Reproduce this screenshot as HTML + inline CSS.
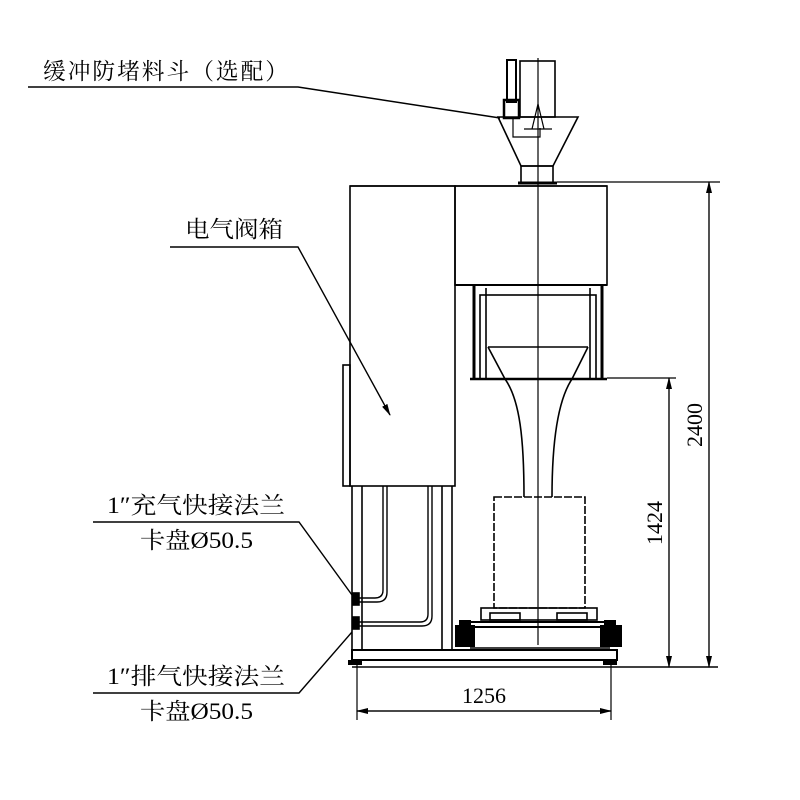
<!DOCTYPE html>
<html><head><meta charset="utf-8"><style>
html,body{margin:0;padding:0;background:#fff}
svg{display:block}
text{font-family:"Liberation Serif","Noto Serif CJK SC",serif;fill:#000}
</style></head><body>
<svg width="800" height="800" viewBox="0 0 800 800" xmlns="http://www.w3.org/2000/svg">
<defs><marker id="ar" markerWidth="12" markerHeight="8" refX="11" refY="4" orient="auto" markerUnits="userSpaceOnUse"><path d="M0,1 L12,4 L0,7 Z" fill="#000"/></marker></defs>
<g fill="none" stroke="#000" stroke-width="1.6">
<rect x="520" y="61" width="35" height="56"/>
<rect x="507" y="60" width="9" height="42" stroke-width="2"/>
<rect x="504" y="100" width="15" height="18" stroke-width="2.5"/>
<path d="M498,117 L578,117 L553,166 L521,166 Z"/>
<rect x="521" y="166" width="32" height="17"/>
<line x1="518" y1="183" x2="557" y2="183" stroke-width="3"/>
<path d="M532,129 L538,104 L544,129 M524,129 L552,129" stroke-width="1.2"/>
<path d="M513,118 L513,137 L540,137 M530,137 L540,137 L540,128" stroke-width="1.2"/>
<line x1="350" y1="186" x2="607" y2="186"/>
<rect x="350" y="186" width="105" height="300"/>
<rect x="455" y="186" width="152" height="99"/>
<rect x="343" y="365" width="7" height="121"/>
<line x1="455" y1="285" x2="607" y2="285" stroke-width="2"/>
<line x1="474" y1="286" x2="474" y2="379" stroke-width="3"/>
<line x1="602" y1="286" x2="602" y2="379" stroke-width="3"/>
<rect x="480" y="295" width="116" height="84"/>
<line x1="486" y1="288" x2="486" y2="379"/>
<line x1="590" y1="288" x2="590" y2="379"/>
<line x1="470" y1="379" x2="607" y2="379" stroke-width="2.5"/>
<line x1="488" y1="347" x2="588" y2="347"/>
<path d="M488,347 L505,379 M588,347 L572,379"/>
<path d="M505,379 C520,400 524,440 524,497"/>
<path d="M572,379 C558,400 552,440 552,497"/>
<rect x="494" y="497" width="91" height="111" stroke-dasharray="8,2"/>
<rect x="481" y="608" width="116" height="12"/>
<rect x="490" y="613" width="30" height="7"/>
<rect x="557" y="613" width="30" height="7"/>
<line x1="470" y1="622" x2="610" y2="622" stroke-width="2"/>
<line x1="470" y1="627" x2="610" y2="627" stroke-width="2"/>
<line x1="470" y1="648" x2="610" y2="648" stroke-width="1.5"/>
<line x1="352" y1="486" x2="352" y2="650"/>
<line x1="362" y1="486" x2="362" y2="650"/>
<line x1="442" y1="486" x2="442" y2="650"/>
<line x1="452" y1="486" x2="452" y2="650"/>
<path d="M383,486 L383,590 Q383,598 375,598 L358,598" stroke-width="1.4"/>
<path d="M387,486 L387,592 Q387,602 377,602 L358,602" stroke-width="1.4"/>
<path d="M428,486 L428,614 Q428,622 420,622 L358,622" stroke-width="1.4"/>
<path d="M432,486 L432,616 Q432,626 422,626 L358,626" stroke-width="1.4"/>
<rect x="353" y="593" width="6" height="12" fill="#000"/>
<rect x="353" y="617" width="6" height="12" fill="#000"/>
<rect x="352" y="650" width="265" height="10" stroke-width="2"/>
<line x1="352" y1="667" x2="718" y2="667"/>
<line x1="538" y1="58" x2="538" y2="645" stroke-width="1.2"/>
<line x1="557" y1="182" x2="720" y2="182" stroke-width="1.2"/>
<line x1="607" y1="378" x2="676" y2="378" stroke-width="1.2"/>
<line x1="709" y1="182" x2="709" y2="667" stroke-width="1.2" marker-end="url(#ar)"/>
<line x1="709" y1="667" x2="709" y2="182" stroke-width="1.2" marker-end="url(#ar)"/>
<line x1="669" y1="378" x2="669" y2="667" stroke-width="1.2" marker-end="url(#ar)"/>
<line x1="669" y1="667" x2="669" y2="378" stroke-width="1.2" marker-end="url(#ar)"/>
<line x1="357" y1="662" x2="357" y2="720" stroke-width="1.2"/>
<line x1="611" y1="662" x2="611" y2="720" stroke-width="1.2"/>
<line x1="357" y1="711" x2="611" y2="711" stroke-width="1.2" marker-end="url(#ar)"/>
<line x1="611" y1="711" x2="357" y2="711" stroke-width="1.2" marker-end="url(#ar)"/>
<path d="M28,87 L298,87 L500,118" stroke-width="1.4"/>
<path d="M170,247 L298,247 L390,415" stroke-width="1.4" marker-end="url(#ar)"/>
<path d="M93,522 L299,522 L352,595" stroke-width="1.4"/>
<path d="M93,693 L299,693 L352,632" stroke-width="1.4"/>
</g>
<g fill="#000">
<rect x="455" y="625" width="20" height="22"/>
<rect x="600" y="625" width="22" height="22"/>
<rect x="459" y="620" width="12" height="6"/>
<rect x="604" y="620" width="12" height="6"/>
<rect x="348" y="660" width="14" height="5"/>
<rect x="603" y="660" width="14" height="5"/>
</g>
<g font-size="23">
<text x="43" y="79" letter-spacing="2" textLength="247" lengthAdjust="spacingAndGlyphs">缓冲防堵料斗（选配）</text>
<text x="185" y="237" textLength="98" lengthAdjust="spacingAndGlyphs">电气阀箱</text>
<text x="107" y="513" textLength="178" lengthAdjust="spacingAndGlyphs">1″充气快接法兰</text>
<text x="140" y="548" textLength="113" lengthAdjust="spacingAndGlyphs">卡盘Ø50.5</text>
<text x="107" y="684" textLength="178" lengthAdjust="spacingAndGlyphs">1″排气快接法兰</text>
<text x="140" y="719" textLength="113" lengthAdjust="spacingAndGlyphs">卡盘Ø50.5</text>
</g>
<g font-size="22" style="font-family:'Liberation Sans',sans-serif">
<text x="462" y="703" textLength="44" lengthAdjust="spacingAndGlyphs">1256</text>
<text transform="translate(702,447) rotate(-90)" textLength="44" lengthAdjust="spacingAndGlyphs">2400</text>
<text transform="translate(662,545) rotate(-90)" textLength="44" lengthAdjust="spacingAndGlyphs">1424</text>
</g>
</svg>
</body></html>
